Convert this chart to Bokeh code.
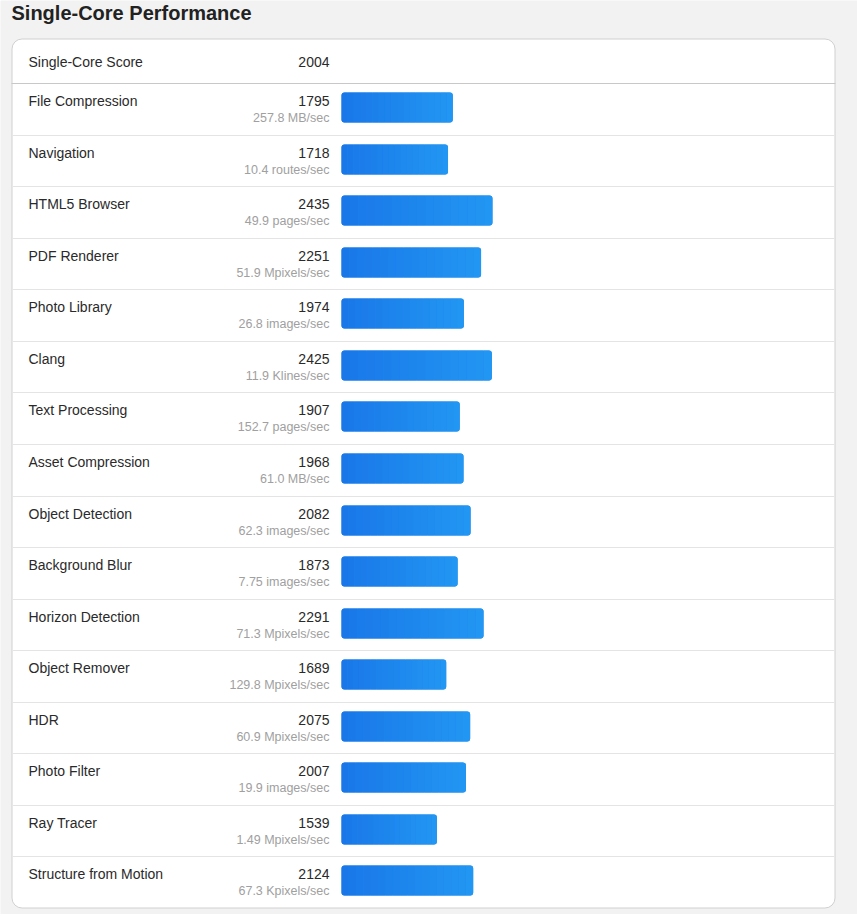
from bokeh.plotting import figure
from bokeh.models import Range1d
from bokeh.embed import file_html
from bokeh.resources import INLINE
from bokeh.core.properties import value

# ---------------- data ----------------
title_text = "Single-Core Performance"
score_label = "Single-Core Score"
single_core_score = 2004
names = ["File Compression", "Navigation", "HTML5 Browser", "PDF Renderer",
         "Photo Library", "Clang", "Text Processing", "Asset Compression",
         "Object Detection", "Background Blur", "Horizon Detection",
         "Object Remover", "HDR", "Photo Filter", "Ray Tracer",
         "Structure from Motion"]
scores = [1795, 1718, 2435, 2251, 1974, 2425, 1907, 1968, 2082, 1873,
          2291, 1689, 2075, 2007, 1539, 2124]
units = ["257.8 MB/sec", "10.4 routes/sec", "49.9 pages/sec",
         "51.9 Mpixels/sec", "26.8 images/sec", "11.9 Klines/sec",
         "152.7 pages/sec", "61.0 MB/sec", "62.3 images/sec",
         "7.75 images/sec", "71.3 Mpixels/sec", "129.8 Mpixels/sec",
         "60.9 Mpixels/sec", "19.9 images/sec", "1.49 Mpixels/sec",
         "67.3 Kpixels/sec"]

# ---------------- layout ----------------
W, H = 857, 914
BAR_X0 = 341          # page x where bars start
SCALE = 0.062         # px per score unit
HEADER_BOTTOM = 83
ROW_H = 51.5625
CARD_L, CARD_R, CARD_T, CARD_B = 11, 835, 38, 908
FONT = "Liberation Sans"


def px(xpage):
    return (xpage - BAR_X0) / SCALE


p = figure(width=W, height=H, output_backend="svg", toolbar_location=None,
           x_range=Range1d(px(0), px(W)), y_range=Range1d(H, 0),
           min_border=0, outline_line_color=None,
           background_fill_color="#f2f2f2", border_fill_color="#f2f2f2")
p.xaxis.visible = False
p.yaxis.visible = False
p.grid.visible = False

# card
p.quad(left=[px(CARD_L + 0.5)], right=[px(CARD_R - 0.5)], top=[CARD_T + 0.5],
       bottom=[CARD_B - 0.5], fill_color="white", line_color="#d0d0d0",
       line_width=1, border_radius=10)

# separators
n = len(names)
row_tops = [round(HEADER_BOTTOM + i * ROW_H) for i in range(n)]
p.segment(x0=[px(CARD_L)], x1=[px(CARD_R)], y0=[HEADER_BOTTOM],
          y1=[HEADER_BOTTOM], line_color="#c8c8c8", line_width=1)
sep_y = row_tops[1:]
p.segment(x0=[px(CARD_L + 1)] * len(sep_y), x1=[px(CARD_R - 1)] * len(sep_y),
          y0=sep_y, y1=sep_y, line_color="#e4e4e4", line_width=1)

# bars: base bar + horizontal gradient strips
N = 18
c0 = (25, 118, 232)
c1 = (34, 151, 243)


def col(t):
    return "#%02x%02x%02x" % tuple(int(round(a + (b - a) * t)) for a, b in zip(c0, c1))


p.quad(left=[0] * n, right=scores, top=[rt + 9 for rt in row_tops],
       bottom=[rt + 39 for rt in row_tops], fill_color=col(0.5),
       line_color=None, border_radius=3)

groups = {"first": ([], [], [], [], []), "mid": ([], [], [], [], []), "last": ([], [], [], [], [])}
for s, rt in zip(scores, row_tops):
    for k in range(N):
        key = "first" if k == 0 else ("last" if k == N - 1 else "mid")
        g = groups[key]
        g[0].append(s * k / N)
        g[1].append(s * (k + 1) / N)
        g[2].append(rt + 9)
        g[3].append(rt + 39)
        g[4].append(col((k + 0.5) / N))

for key, rad in (("first", (3, 0, 0, 3)), ("mid", 0), ("last", (0, 3, 3, 0))):
    L, R, T, B, C = groups[key]
    p.quad(left=L, right=R, top=T, bottom=B, fill_color=C, line_color=None,
           border_radius=rad)

# texts
p.text(x=[px(11)], y=[12], text=[title_text], text_font=value(FONT),
       text_font_size="20px", text_font_style="bold", text_color="#222222",
       text_baseline="middle", text_align="left")

p.text(x=[px(28)], y=[61], text=[score_label], text_font=value(FONT),
       text_font_size="14px", text_color="#2a2a2a",
       text_baseline="middle", text_align="left")
p.text(x=[px(329)], y=[61], text=[str(single_core_score)], text_font=value(FONT),
       text_font_size="14px", text_color="#2a2a2a",
       text_baseline="middle", text_align="right")

p.text(x=[px(28)] * n, y=[rt + 17 for rt in row_tops], text=names,
       text_font=value(FONT), text_font_size="14px", text_color="#2a2a2a",
       text_baseline="middle", text_align="left")
p.text(x=[px(329)] * n, y=[rt + 17 for rt in row_tops], text=[str(s) for s in scores],
       text_font=value(FONT), text_font_size="14px", text_color="#2a2a2a",
       text_baseline="middle", text_align="right")
p.text(x=[px(329)] * n, y=[rt + 34 for rt in row_tops], text=units,
       text_font=value(FONT), text_font_size="12.5px", text_color="#a0a0a0",
       text_baseline="middle", text_align="right")

open("out.html", "w").write(file_html(p, INLINE))
